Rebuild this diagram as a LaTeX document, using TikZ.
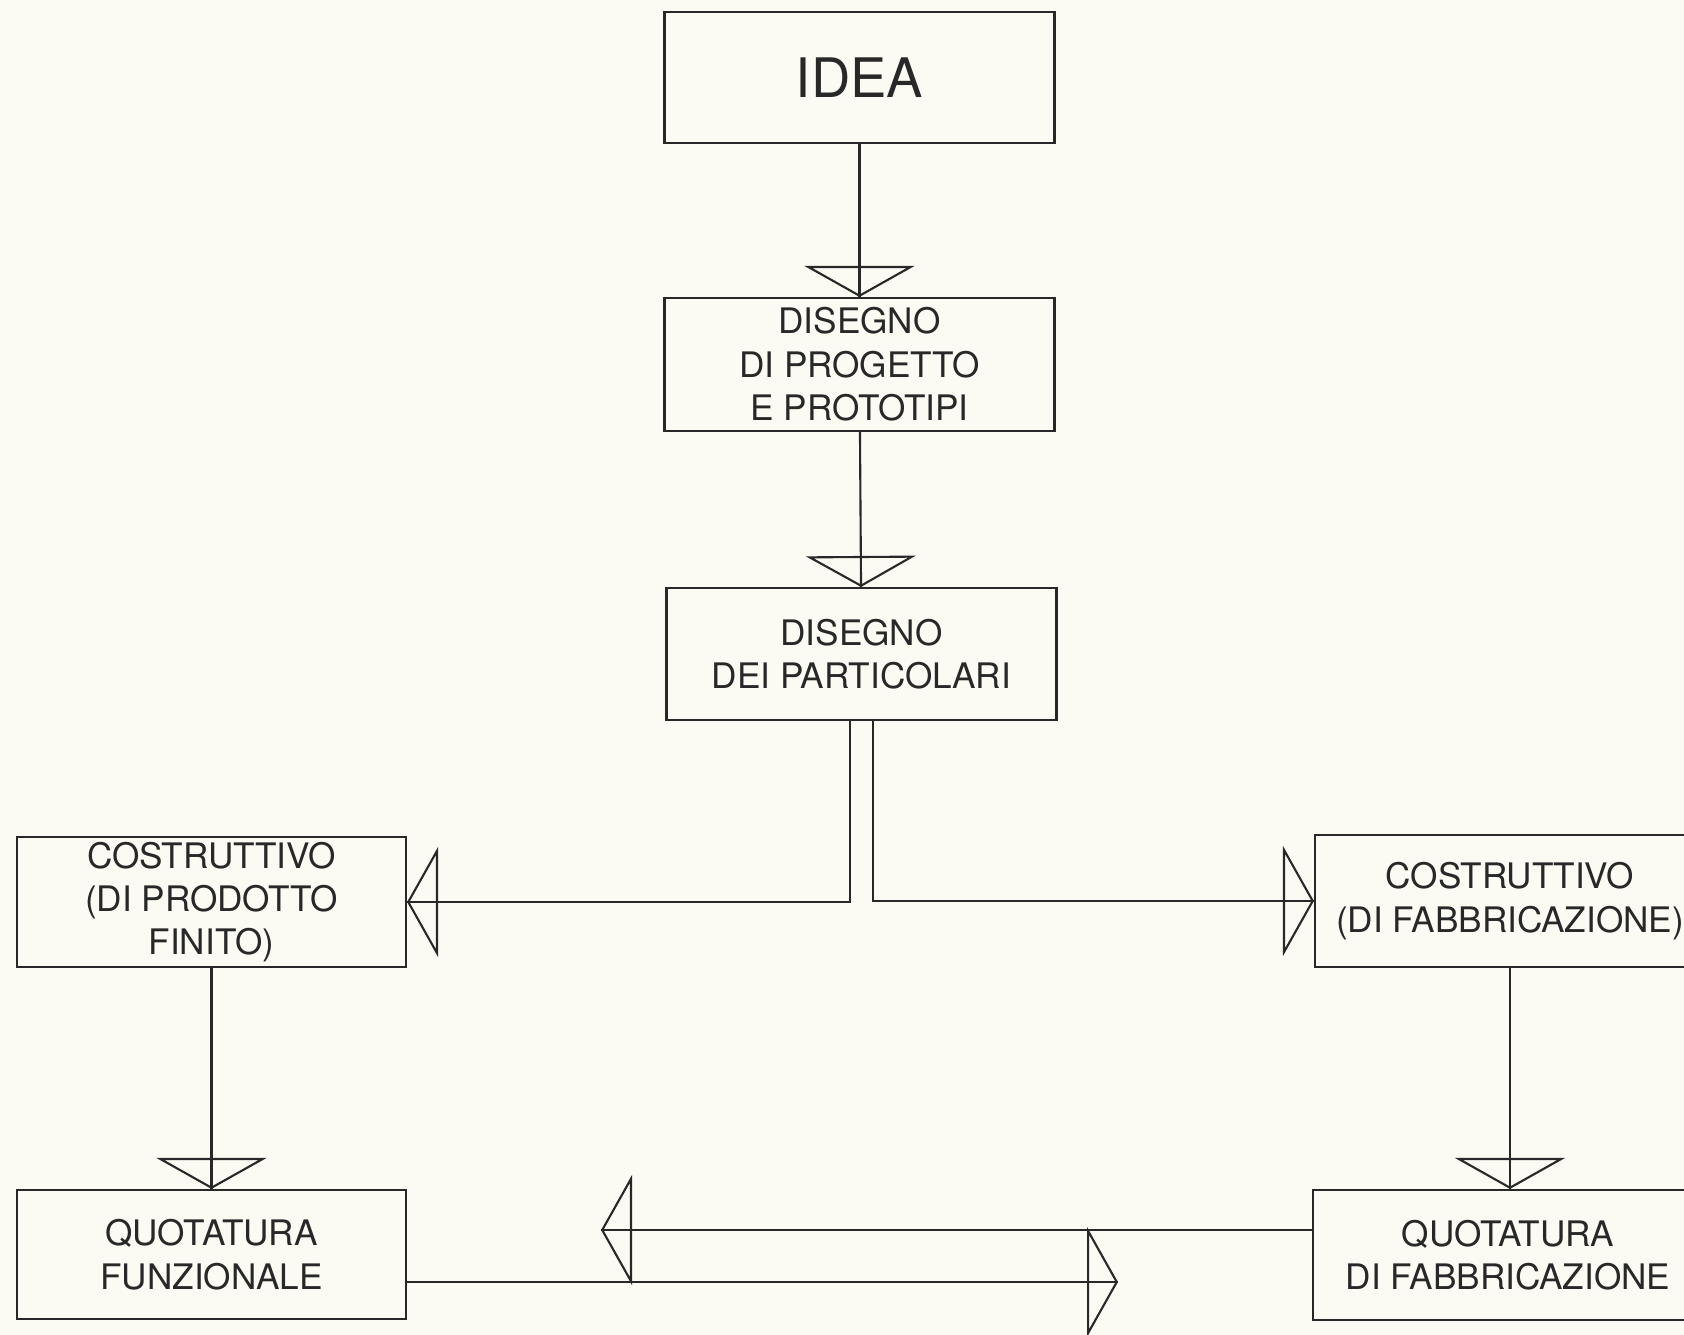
\documentclass[tikz,border=0pt]{standalone}
\usepackage{fontspec}
\setmainfont{TeX Gyre Heros}
\usepackage{xcolor}
\usetikzlibrary{positioning,arrows.meta,decorations.markings}
\definecolor{paper}{RGB}{252,251,243}
\definecolor{ink}{RGB}{40,40,40}

\begin{document}
\begin{tikzpicture}[
  box/.style={draw, color=ink, line width=1.2pt, minimum width=7.8cm, minimum height=2.62cm,
    align=center, inner sep=0pt, font=\fontsize{20}{24.7}\selectfont},
  flow/.style={draw, color=ink, line width=1.2pt, postaction={decorate},
    decoration={markings, mark=at position 1 with {\arrow[line width=1.2pt]{Triangle[open, length=0.62cm, width=2.2cm]}}}}
]
\fill[paper] (0,0) rectangle (33.68,-26.7);
\clip (0,0) rectangle (33.68,-26.7);

\node[box, font=\fontsize{31}{36}\selectfont] (idea) at (17.19,-1.55) {IDEA};
\node[box, minimum height=2.66cm] (proj) at (17.19,-7.29) {DISEGNO\\DI PROGETTO\\E PROTOTIPI};
\node[box, minimum height=2.64cm] (part) at (17.23,-13.08) {DISEGNO\\DEI PARTICOLARI};

\node[box, minimum width=7.78cm, minimum height=2.6cm] (costrL) at (4.23,-18.04) {COSTRUTTIVO\\(DI PRODOTTO\\FINITO)};
\node[box, minimum height=2.64cm] (costrR) at (30.2,-18.02) {COSTRUTTIVO\\(DI FABBRICAZIONE)};

\node[box, minimum width=7.78cm, minimum height=2.58cm] (quotaL) at (4.23,-25.09) {QUOTATURA\\FUNZIONALE};
\node[box, minimum height=2.6cm] (quotaR) at (30.16,-25.1) {QUOTATURA\\DI FABBRICAZIONE};

\coordinate (backtip) at (12.02,-24.6);
\coordinate (fwdtip) at (22.36,-25.64);

\draw[flow] (idea) -- (proj);
\draw[flow] (proj) -- (part);
\draw[flow] ([xshift=-0.23cm]part.south) |- (costrL.east);
\draw[flow] ([xshift=0.23cm]part.south) |- (costrR.west);
\draw[flow] (costrL) -- (quotaL);
\draw[flow] (costrR.south) -- (costrR.south |- quotaR.north);
\draw[flow] (quotaR.west |- backtip) -- (backtip);
\draw[flow] (quotaL.east |- fwdtip) -- (fwdtip);

\end{tikzpicture}
\end{document}
